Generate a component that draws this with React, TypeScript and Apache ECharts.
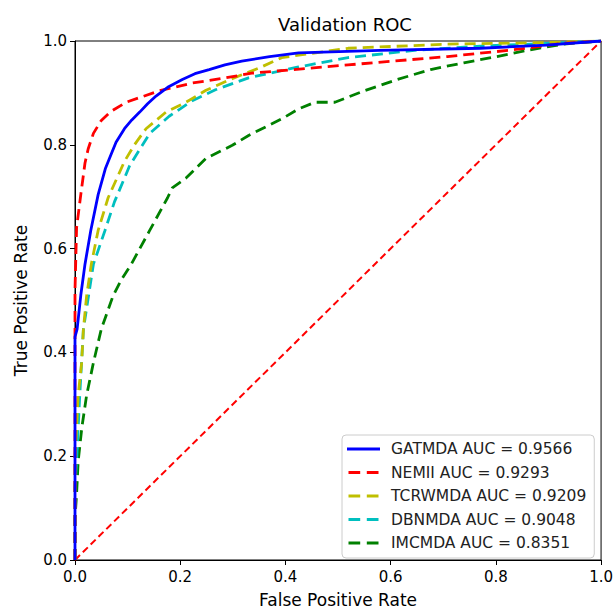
import React, { useEffect, useRef } from "react";
import * as echarts from "echarts";

const seriesNames = [
  "GATMDA AUC = 0.9566",
  "NEMII AUC = 0.9293",
  "TCRWMDA AUC = 0.9209",
  "DBNMDA AUC = 0.9048",
  "IMCMDA AUC = 0.8351",
];

const gatmdaFpr = [0, 0, 0.004, 0.011, 0.019, 0.03, 0.044, 0.058, 0.066, 0.078, 0.094, 0.108, 0.123, 0.138, 0.154, 0.178, 0.204, 0.228, 0.255, 0.285, 0.317, 0.37, 0.425, 0.58, 0.77, 0.896, 1];
const gatmdaTpr = [0, 0.43, 0.445, 0.51, 0.57, 0.635, 0.704, 0.755, 0.775, 0.805, 0.831, 0.848, 0.863, 0.879, 0.894, 0.912, 0.926, 0.937, 0.945, 0.954, 0.961, 0.97, 0.977, 0.982, 0.986, 0.992, 1];

const nemiiFpr = [0, 0, 0.003, 0.011, 0.019, 0.025, 0.035, 0.05, 0.068, 0.0975, 0.16, 0.223, 0.286, 0.336, 0.519, 0.708, 0.833, 0.928, 1];
const nemiiTpr = [0, 0.52, 0.64, 0.704, 0.765, 0.792, 0.822, 0.847, 0.864, 0.882, 0.904, 0.919, 0.929, 0.938, 0.954, 0.97, 0.983, 0.9955, 1];

const tcrwmdaFpr = [0, 0, 0.003, 0.006, 0.0126, 0.016, 0.022, 0.031, 0.044, 0.063, 0.094, 0.113, 0.135, 0.173, 0.211, 0.249, 0.3, 0.35, 0.393, 0.519, 0.708, 0.896, 1];
const tcrwmdaTpr = [0, 0.2, 0.255, 0.317, 0.38, 0.445, 0.508, 0.57, 0.635, 0.698, 0.768, 0.8, 0.831, 0.863, 0.882, 0.905, 0.928, 0.948, 0.968, 0.986, 0.994, 0.997, 1];

const dbnmdaFpr = [0, 0, 0.003, 0.009, 0.016, 0.035, 0.057, 0.075, 0.104, 0.142, 0.179, 0.223, 0.267, 0.33, 0.425, 0.519, 0.645, 0.77, 0.896, 1];
const dbnmdaTpr = [0, 0.14, 0.19, 0.317, 0.445, 0.57, 0.635, 0.69, 0.76, 0.822, 0.855, 0.885, 0.906, 0.929, 0.95, 0.968, 0.982, 0.99, 0.9955, 1];

const imcmdaFpr = [0, 0, 0.003, 0.006, 0.013, 0.022, 0.035, 0.05, 0.072, 0.088, 0.107, 0.142, 0.176, 0.185, 0.211, 0.249, 0.299, 0.33, 0.393, 0.425, 0.456, 0.494, 0.55, 0.613, 0.676, 0.739, 0.802, 0.865, 0.928, 1];
const imcmdaTpr = [0, 0.08, 0.127, 0.19, 0.255, 0.317, 0.38, 0.445, 0.508, 0.54, 0.57, 0.635, 0.698, 0.717, 0.736, 0.774, 0.799, 0.818, 0.85, 0.869, 0.882, 0.882, 0.904, 0.926, 0.945, 0.958, 0.97, 0.983, 0.994, 1];

const diagonalFpr = [0, 1];
const diagonalTpr = [0, 1];

const seriesColors = ["#0000ff", "#ff0000", "#bfbf00", "#00bfbf", "#008000"];

const solidIcon = "path://M0,0H33V3H0Z";
const dashedIcon = "path://M0,0H11.7V3H0Z M18.3,0H30V3H18.3Z";

const zip = (xs: number[], ys: number[]) => xs.map((x, i) => [x, ys[i]]);

export default function App() {
  const ref = useRef<HTMLDivElement>(null);
  useEffect(() => {
    document.body.style.margin = "0";
    const chart = echarts.init(ref.current!, null, { renderer: "svg" });
    const font = "DejaVu Sans";
    const curves = [
      { fpr: gatmdaFpr, tpr: gatmdaTpr, solid: true },
      { fpr: nemiiFpr, tpr: nemiiTpr, solid: false },
      { fpr: tcrwmdaFpr, tpr: tcrwmdaTpr, solid: false },
      { fpr: dbnmdaFpr, tpr: dbnmdaTpr, solid: false },
      { fpr: imcmdaFpr, tpr: imcmdaTpr, solid: false },
    ];
    const series: any[] = curves.map((c, i) => ({
      name: seriesNames[i],
      type: "line",
      data: zip(c.fpr, c.tpr),
      symbol: "none",
      showSymbol: false,
      smooth: false,
      lineStyle: {
        color: seriesColors[i],
        width: 2.8,
        type: c.solid ? "solid" : [11, 6],
      },
      itemStyle: { color: seriesColors[i] },
      z: 10 - i,
    }));
    series.push({
      name: "diag",
      type: "line",
      data: zip(diagonalFpr, diagonalTpr),
      symbol: "none",
      lineStyle: { color: "#ff0000", width: 2, type: [7, 4] },
      z: 1,
    });
    chart.setOption({
      animation: false,
      backgroundColor: "#ffffff",
      textStyle: { fontFamily: font },
      title: {
        text: "Validation ROC",
        left: 340,
        textAlign: "center",
        top: 10,
        textStyle: { fontFamily: font, fontSize: 18, fontWeight: "normal", color: "#000" },
      },
      grid: {
        left: 75,
        right: 11,
        top: 41,
        bottom: 46,
        show: true,
        borderColor: "#000",
        borderWidth: 1,
        containLabel: false,
      },
      xAxis: {
        type: "value",
        min: 0,
        max: 1,
        interval: 0.2,
        name: "False Positive Rate",
        nameLocation: "middle",
        nameGap: 31,
        nameTextStyle: { fontFamily: font, fontSize: 17, color: "#000" },
        axisLine: { show: true, onZero: false, lineStyle: { color: "#000" } },
        axisTick: { show: true, inside: false, length: 5, lineStyle: { color: "#000" } },
        axisLabel: {
          margin: 9,
          fontFamily: font,
          fontSize: 15,
          color: "#000",
          formatter: (v: number) => v.toFixed(1),
        },
        splitLine: { show: false },
      },
      yAxis: {
        type: "value",
        min: 0,
        max: 1,
        interval: 0.2,
        name: "True Positive Rate",
        nameLocation: "middle",
        nameGap: 46,
        nameRotate: 90,
        nameTextStyle: { fontFamily: font, fontSize: 17, color: "#000" },
        axisLine: { show: true, onZero: false, lineStyle: { color: "#000" } },
        axisTick: { show: true, inside: false, length: 5, lineStyle: { color: "#000" } },
        axisLabel: {
          margin: 8,
          fontFamily: font,
          fontSize: 15,
          color: "#000",
          formatter: (v: number) => v.toFixed(1),
        },
        splitLine: { show: false },
      },
      legend: {
        data: seriesNames.map((n, i) => ({
          name: n,
          icon: i === 0 ? solidIcon : dashedIcon,
          itemStyle: { color: seriesColors[i], borderWidth: 0 },
        })),
        orient: "vertical",
        left: 342,
        top: 435,
        padding: [6, 8, 7, 5],
        itemGap: 7.5,
        itemWidth: 33,
        itemHeight: 3,
        backgroundColor: "rgba(255,255,255,0.8)",
        borderColor: "#cccccc",
        borderWidth: 1,
        borderRadius: 4,
        textStyle: { fontFamily: font, fontSize: 15.5, color: "#222", padding: [0, 0, 0, 6] },
      },
      series,
    });
    return () => chart.dispose();
  }, []);
  return <div ref={ref} style={{ width: 616, height: 613 }} />;
}
